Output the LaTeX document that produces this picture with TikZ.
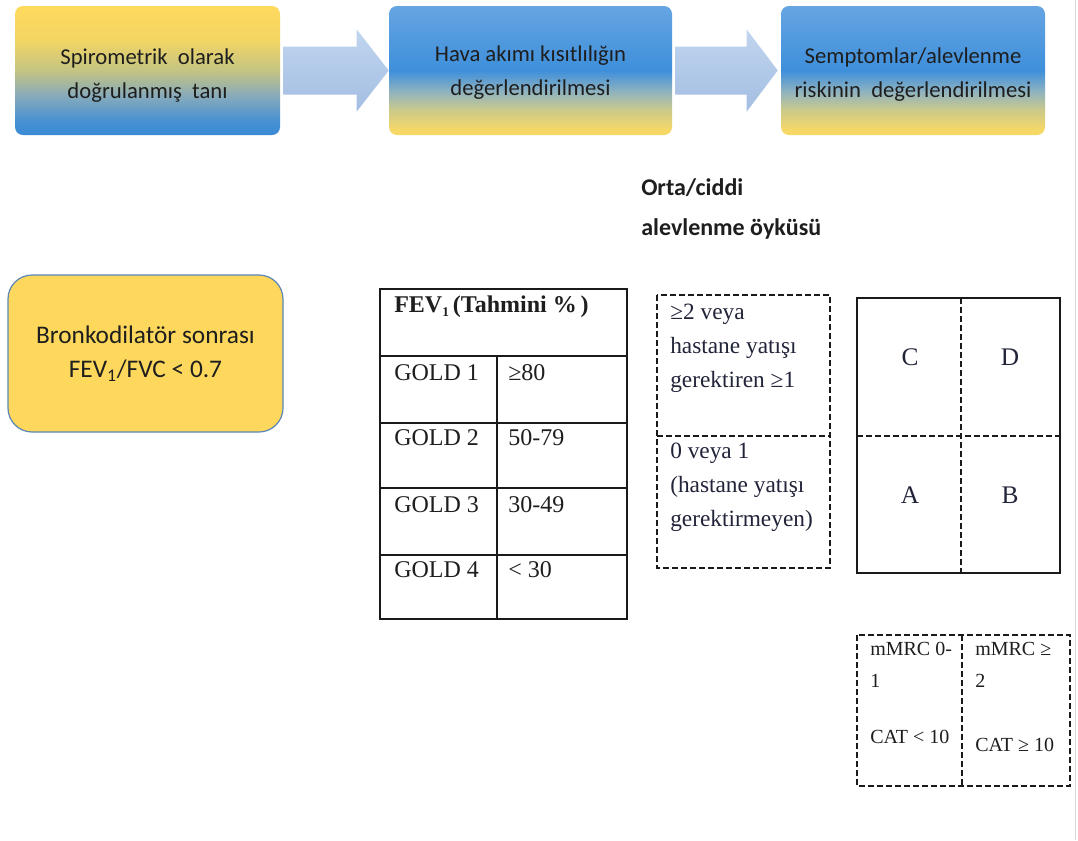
\documentclass[tikz,border=0pt]{standalone}
\usepackage{fontspec}
\setmainfont{Liberation Serif}
\newfontfamily\calfont{Carlito}
\usetikzlibrary{calc}
\definecolor{yA}{HTML}{FFDA5C}
\definecolor{yB}{HTML}{F3D564}
\definecolor{yC}{HTML}{C4C482}
\definecolor{yD}{HTML}{86AABC}
\definecolor{yE}{HTML}{4590D2}
\definecolor{yF}{HTML}{3A8AD6}
\definecolor{bA}{HTML}{F6D866}
\definecolor{bB}{HTML}{C9C98C}
\definecolor{bC}{HTML}{8EB2C0}
\definecolor{bD}{HTML}{3E8FDB}
\definecolor{bE}{HTML}{66A5E2}
\definecolor{arrowtop}{HTML}{C0D5EF}
\definecolor{arrowbot}{HTML}{A4BEE2}
\definecolor{yelbox}{HTML}{FDD85C}
\definecolor{yelborder}{HTML}{5B86B6}
\definecolor{txtdark}{HTML}{1E1E1E}
\definecolor{txtnavy}{HTML}{22243A}
\definecolor{linedark}{HTML}{1A1A1A}
\definecolor{edgegray}{HTML}{DADADA}
\pgfdeclareverticalshading{yelblue}{100bp}{color(0bp)=(yF); color(25bp)=(yF); color(30bp)=(yE); color(40bp)=(yD); color(50bp)=(yC); color(62bp)=(yB); color(75bp)=(yA); color(100bp)=(yA)}
\pgfdeclareverticalshading{blueyel}{100bp}{color(0bp)=(bA); color(27bp)=(bA); color(35bp)=(bB); color(42bp)=(bC); color(50bp)=(bD); color(75bp)=(bE); color(100bp)=(bE)}
\newcommand{\tlines}[1]{\begin{tabular}[t]{@{}l@{}}#1\end{tabular}}
\begin{document}
\begin{tikzpicture}[x=0.75pt,y=-0.75pt,
  topbox/.style={rounded corners=6pt, minimum height=96.75pt, inner sep=0pt},
  toptext/.style={inner sep=0pt, align=center, text=txtdark, font=\calfont\fontsize{17}{25}\selectfont},
  blockarrow/.style={top color=arrowtop, bottom color=arrowbot, draw=none},
  tabline/.style={draw=linedark, line width=1.4pt},
  dashline/.style={draw=linedark, line width=1.2pt, dash pattern=on 4.5pt off 2.25pt},
  sertext/.style={anchor=base west, inner sep=0pt, text=txtnavy},
  quad/.style={inner sep=0pt, text=txtnavy, font=\fontsize{19}{22}\selectfont}]
\useasboundingbox (0,0) rectangle (1078,840);
\fill[white] (0,0) rectangle (1078,840);
\draw[edgegray, line width=0.75pt] (1075.5,0) -- (1075.5,840);

% top process boxes
\node[topbox, shading=yelblue, minimum width=198.75pt] (b1) at (147.5,70.5) {};
\node[topbox, shading=blueyel, minimum width=212.25pt] (b2) at (530.5,70.5) {};
\node[topbox, shading=blueyel, minimum width=198pt] (b3) at (913,70.5) {};
\node[toptext] (t1) at ($(b1.center)+(0,5)$) {Spirometrik~ olarak\\doğrulanmış~ tanı};
\node[toptext] (t2) at ($(b2.center)+(0,2)$) {Hava akımı kısıtlılığın\\değerlendirilmesi};
\node[toptext] (t3) at ($(b3.center)+(0,4)$) {Semptomlar/alevlenme\\riskinin~ değerlendirilmesi};

% block arrows
\path[blockarrow] ($(b1.east)+(3,-24)$) -- ($(b2.west)+(-32,-24)$) -- ($(b2.west)+(-32,-41)$) -- (b2.west)
  -- ($(b2.west)+(-32,41)$) -- ($(b2.west)+(-32,24)$) -- ($(b1.east)+(3,24)$) -- cycle;
\path[blockarrow] ($(b2.east)+(3,-24)$) -- ($(b3.west)+(-34,-24)$) -- ($(b3.west)+(-34,-41)$) -- ($(b3.west)+(-3,0)$)
  -- ($(b3.west)+(-34,41)$) -- ($(b3.west)+(-34,24)$) -- ($(b2.east)+(3,24)$) -- cycle;

% left yellow box
\node[rounded corners=18pt, fill=yelbox, draw=yelborder, line width=0.9pt, minimum width=206.25pt,
  minimum height=117.75pt, align=center, text=txtdark, font=\calfont\fontsize{19}{26}\selectfont] (bd) at (145.5,353.5)
  {Bronkodilatör sonrası\\FEV\textsubscript{1}/FVC < 0.7};

% heading
\node[anchor=base west, inner sep=0pt, text=txtdark, font=\calfont\bfseries\fontsize{18}{30}\selectfont] (orta) at (641,195)
  {\tlines{Orta/ciddi\\alevlenme öyküsü}};

% FEV1 table
\draw[tabline] (380,289) rectangle (627,619);
\draw[tabline] (380,356) -- (627,356);
\draw[tabline] (380,423) -- (627,423);
\draw[tabline] (380,488) -- (627,488);
\draw[tabline] (380,555) -- (627,555);
\draw[tabline] (497,356) -- (497,619);
\node[sertext, text=txtdark, font=\bfseries\fontsize{18}{20}\selectfont] (hdr) at (394,312) {FEV{\fontsize{10}{10}\selectfont\raisebox{-3pt}{1}}\,(Tahmini \%\,)};
\node[sertext, text=txtdark, font=\fontsize{18}{20}\selectfont] (g1) at (394,380) {GOLD 1};
\node[sertext, text=txtdark, font=\fontsize{18}{20}\selectfont] (g2) at (394,445) {GOLD 2};
\node[sertext, text=txtdark, font=\fontsize{18}{20}\selectfont] (g3) at (394,512) {GOLD 3};
\node[sertext, text=txtdark, font=\fontsize{18}{20}\selectfont] (g4) at (394,577) {GOLD 4};
\node[sertext, text=txtdark, font=\fontsize{18}{20}\selectfont] (v1) at (508,380) {≥80};
\node[sertext, text=txtdark, font=\fontsize{18}{20}\selectfont] (v2) at (508,445) {50-79};
\node[sertext, text=txtdark, font=\fontsize{18}{20}\selectfont] (v3) at (508,512) {30-49};
\node[sertext, text=txtdark, font=\fontsize{18}{20}\selectfont] (v4) at (508,577) {< 30};

% exacerbation history box
\draw[dashline] (657,295) rectangle (830,568);
\draw[dashline] (657,436) -- (830,436);
\node[sertext, font=\fontsize{17.5}{25.5}\selectfont] (exhi) at (670,319) {\tlines{≥2 veya\\hastane yatışı\\gerektiren ≥1}};
\node[sertext, font=\fontsize{17.5}{25.5}\selectfont] (exlo) at (670,458) {\tlines{0 veya 1\\(hastane yatışı\\gerektirmeyen)}};

% ABCD grid
\draw[tabline] (857,298) rectangle (1060,573);
\draw[dashline] (857,436) -- (1060,436);
\draw[dashline] (961,298) -- (961,573);
\node[quad] (qc) at (910,357) {C};
\node[quad] (qd) at (1010,357) {D};
\node[quad] (qa) at (910,495) {A};
\node[quad] (qb) at (1010,495) {B};

% symptom box
\draw[dashline] (857,635) rectangle (1070,786);
\draw[dashline] (962,635) -- (962,786);
\node[sertext, text=txtdark, font=\fontsize{15}{24}\selectfont] (mm1) at (870,655) {\tlines{mMRC 0-\\1\\[1.2em]CAT < 10}};
\node[sertext, text=txtdark, font=\fontsize{15}{24}\selectfont] (mm2) at (975,655) {\tlines{mMRC ≥\\2\\[1.6em]CAT ≥ 10}};
\end{tikzpicture}
\end{document}
